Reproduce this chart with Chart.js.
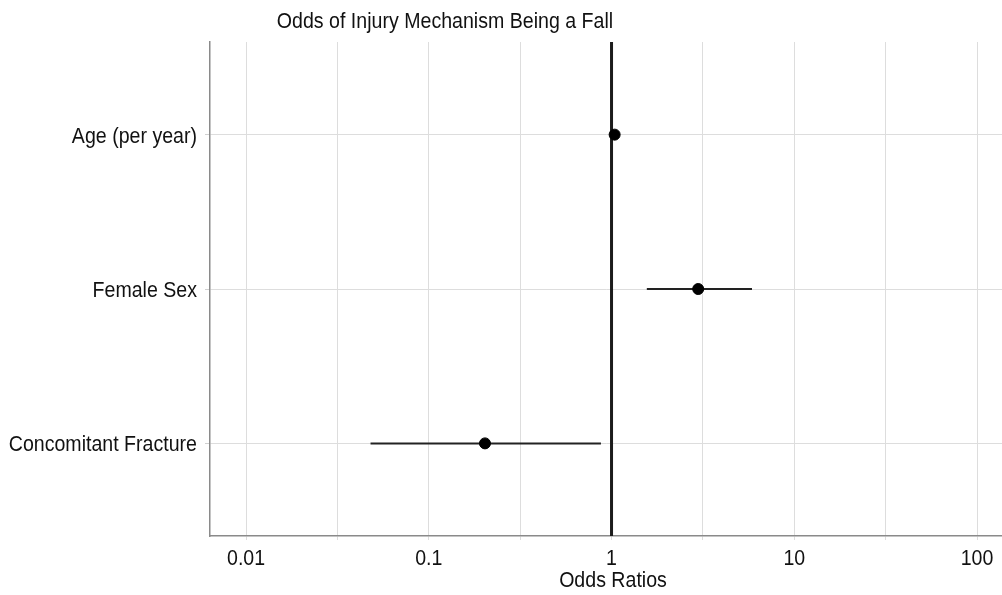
<!DOCTYPE html>
<html>
<head>
<meta charset="utf-8">
<script src="https://cdn.jsdelivr.net/npm/chart.js@4.4.1/dist/chart.umd.min.js"></script>
<style>
  html, body { margin: 0; padding: 0; background: #ffffff; }
  #wrap { width: 1002px; height: 595px; }
</style>
</head>
<body>
<div id="wrap"><canvas id="c" width="1002" height="595"></canvas></div>
<script>
// ---- data ----
const categories = ['Age (per year)', 'Female Sex', 'Concomitant Fracture'];
const oddsRatios = [1.04, 2.98, 0.203];
const ciLower    = [1.02, 1.56, 0.048];
const ciUpper    = [1.06, 5.87, 0.875];
const xTickValues = [0.01, 0.0316, 0.1, 0.316, 1, 3.16, 10, 31.6, 100];
const xTickLabels = ['0.01', '', '0.1', '', '1', '', '10', '', '100'];
const referenceOR = 1;
const chartTitle = 'Odds of Injury Mechanism Being a Fall';
const xAxisTitle = 'Odds Ratios';

const FONT = "'Liberation Sans', Arial, Helvetica, sans-serif";
const FONT_SIZE = 22;
const SQUEEZE = 0.89;   // reference text is a horizontally condensed Helvetica
const TEXT = '#111111';

const yPos = categories.map((c, i) => i + 1);

const errorBarSets = categories.map((c, i) => ({
  type: 'line',
  label: c + ' CI',
  data: [{ x: ciLower[i], y: yPos[i] }, { x: ciUpper[i], y: yPos[i] }],
  borderColor: '#222222',
  borderWidth: 2,
  pointRadius: 0,
  showLine: true,
  fill: false,
  order: 1
}));

const refLine = {
  type: 'line',
  label: 'ref',
  data: [{ x: referenceOR, y: 0.4 }, { x: referenceOR, y: 3.6 }],
  borderColor: '#1c1c1c',
  borderWidth: 3,
  pointRadius: 0,
  showLine: true,
  fill: false,
  order: 3
};

const pointSet = {
  type: 'scatter',
  label: 'OR',
  data: categories.map((c, i) => ({ x: oddsRatios[i], y: yPos[i] })),
  backgroundColor: '#000000',
  borderColor: '#000000',
  pointRadius: 5.5,
  pointHoverRadius: 5.5,
  order: 0
};

function squeezedText(ctx, text, x, y, align) {
  ctx.save();
  ctx.translate(x, y);
  ctx.scale(SQUEEZE, 1);
  ctx.textAlign = align;
  ctx.textBaseline = 'alphabetic';
  ctx.fillText(text, 0, 0);
  ctx.restore();
}

const textPlugin = {
  id: 'condensedText',
  afterDraw(chart) {
    const ctx = chart.ctx;
    const xs = chart.scales.x, ys = chart.scales.y;
    const area = chart.chartArea;
    ctx.save();
    ctx.font = FONT_SIZE + 'px ' + FONT;
    ctx.fillStyle = TEXT;
    // title
    squeezedText(ctx, chartTitle, 445, 28, 'center');
    // y tick labels (categories)
    categories.forEach((c, i) => {
      squeezedText(ctx, c, area.left - 13, ys.getPixelForValue(yPos[i]) + 8, 'right');
    });
    // x tick labels
    xTickValues.forEach((v, i) => {
      if (xTickLabels[i]) squeezedText(ctx, xTickLabels[i], xs.getPixelForValue(v), area.bottom + 29, 'center');
    });
    // x axis title
    squeezedText(ctx, xAxisTitle, (area.left + area.right) / 2 + 7, area.bottom + 51, 'center');
    ctx.restore();
  }
};

new Chart(document.getElementById('c'), {
  data: { datasets: [pointSet, ...errorBarSets, refLine] },
  options: {
    responsive: false,
    animation: false,
    layout: { autoPadding: false, padding: { top: 42, right: 0, left: 0, bottom: 0 } },
    plugins: {
      legend: { display: false },
      tooltip: { enabled: false },
      title: { display: false }
    },
    scales: {
      x: {
        type: 'logarithmic',
        min: 0.00635,
        max: 137,
        afterBuildTicks(scale) {
          scale.ticks = xTickValues.map(v => ({ value: v }));
        },
        afterFit(scale) { scale.height = 59; scale.paddingLeft = 0; scale.paddingRight = 0; },
        ticks: {
          display: false,
          autoSkip: false,
          maxRotation: 0,
          callback(value, index) { return xTickLabels[index]; }
        },
        grid: {
          color: '#dddddd',
          lineWidth: 1,
          drawTicks: true,
          tickLength: 4,
          tickColor: '#dddddd'
        },
        border: { color: '#8a8a8a', width: 1.5 },
        title: { display: false, text: xAxisTitle }
      },
      y: {
        type: 'linear',
        reverse: true,
        min: 0.4,
        max: 3.6,
        afterBuildTicks(scale) {
          scale.ticks = yPos.map(v => ({ value: v }));
        },
        afterFit(scale) { scale.width = 210; scale.paddingTop = 0; scale.paddingBottom = 0; },
        ticks: {
          display: false,
          autoSkip: false,
          callback(value) { return categories[value - 1]; }
        },
        grid: {
          color: '#dddddd',
          lineWidth: 1,
          drawTicks: true,
          tickLength: 5,
          tickColor: '#d0d0d0'
        },
        border: { color: '#8a8a8a', width: 1.5 }
      }
    }
  },
  plugins: [textPlugin]
});
</script>
</body>
</html>
